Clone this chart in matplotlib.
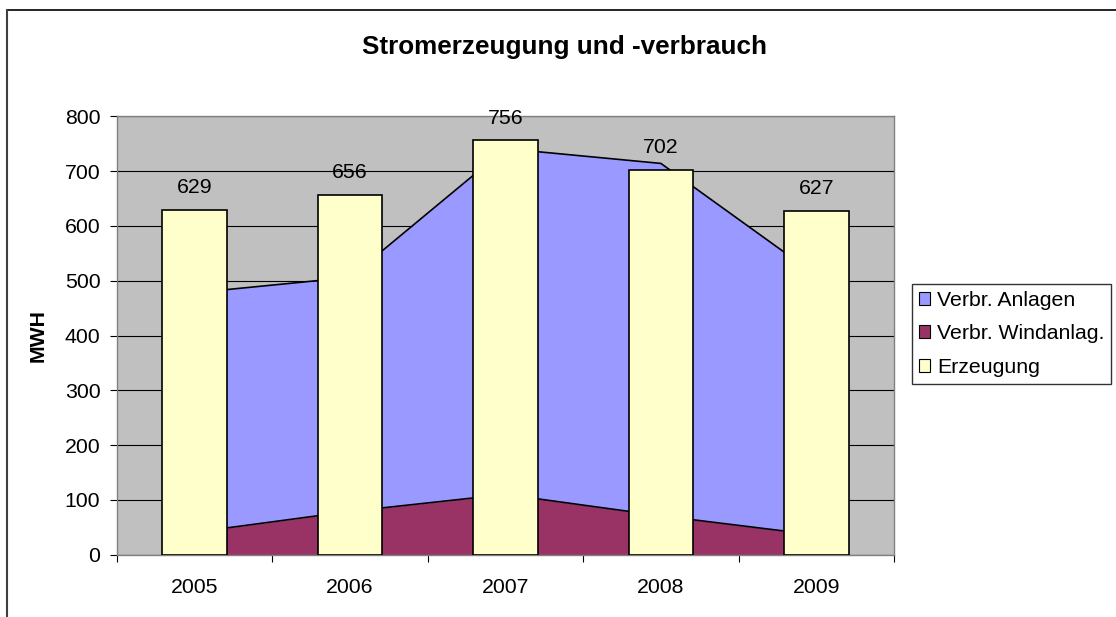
import matplotlib
matplotlib.use("Agg")
import matplotlib.pyplot as plt
from matplotlib.patches import Patch
from matplotlib.lines import Line2D
import numpy as np

years = ["2005", "2006", "2007", "2008", "2009"]
erzeugung = [629, 656, 756, 702, 627]
verbr_wind = [41, 79, 110, 71, 36]
verbr_anlagen = [437, 427, 631, 643, 474]

plt.rcParams['font.family'] = ['Liberation Sans', 'DejaVu Sans']
FS = 15.3

fig = plt.figure(figsize=(11.16, 6.17), dpi=100)
ax = fig.add_axes([117/1116, 1-554.7/617, (894-117)/1116, (554.7-116.3)/617])
ax.set_facecolor('#C0C0C0')

x = np.arange(1, len(years) + 1)
wind = np.array(verbr_wind)
anl = np.array(verbr_anlagen)

ax.fill_between(x, 0, wind, color='#993366', zorder=2, linewidth=0)
ax.fill_between(x, wind, wind + anl, color='#9999FF', zorder=2, linewidth=0)
ax.plot(x, wind, color='black', lw=1.2, zorder=3)
ax.plot(x, wind + anl, color='black', lw=1.2, zorder=3)

bars = ax.bar(x, erzeugung, width=0.415, color='#FFFFCC', edgecolor='black',
              linewidth=1.2, zorder=4)
for xi, v in zip(x, erzeugung):
    ax.annotate(str(v), (xi, v), xytext=(0, 16), textcoords='offset points',
                ha='center', va='center', fontsize=FS, zorder=5)

ax.set_xlim(0.5, len(years) + 0.5)
ax.set_ylim(0, 800)
ax.set_yticks(np.arange(0, 801, 100))
ax.tick_params(axis='y', labelsize=FS, length=5, width=0.8, direction='out', color='black', pad=7)
ax.set_xticks(x)
ax.set_xticklabels(years)
ax.set_xticks(np.arange(0.5, len(years) + 1, 1), minor=True)
ax.tick_params(axis='x', which='major', length=0, labelsize=FS, pad=17)
ax.tick_params(axis='x', which='minor', length=5, width=0.8, direction='out', color='black')
ax.yaxis.grid(True, color='black', lw=0.8, zorder=1)
ax.set_axisbelow(True)
for s in ['top', 'right', 'left', 'bottom']:
    ax.spines[s].set_color('#808080')
    ax.spines[s].set_linewidth(1)

ax.set_ylabel('MWH', fontsize=FS, fontweight='bold', labelpad=12)
fig.text(564/1116, 1-47/617, 'Stromerzeugung und -verbrauch', ha='center', va='center',
         fontsize=18.8, fontweight='bold')

handles = [Patch(facecolor='#9999FF', edgecolor='black', lw=0.8, label='Verbr. Anlagen'),
           Patch(facecolor='#993366', edgecolor='black', lw=0.8, label='Verbr. Windanlag.'),
           Patch(facecolor='#FFFFCC', edgecolor='black', lw=0.8, label='Erzeugung')]
leg = fig.legend(handles=handles, loc='upper left',
                 bbox_to_anchor=(912/1116, 1-284/617), fontsize=FS,
                 frameon=True, fancybox=False, edgecolor='black',
                 handlelength=0.55, handleheight=0.55, handletextpad=0.3,
                 borderpad=0.32, labelspacing=0.68, borderaxespad=0)
leg.get_frame().set_linewidth(1)

# chart frame
fig.add_artist(Line2D([7/1116, 1], [1-10/617, 1-10/617], color='black', lw=1.2, transform=fig.transFigure))
fig.add_artist(Line2D([7/1116, 7/1116], [0, 1-10/617], color='#404040', lw=1.5, transform=fig.transFigure))

fig.savefig('out.png', dpi=100)
